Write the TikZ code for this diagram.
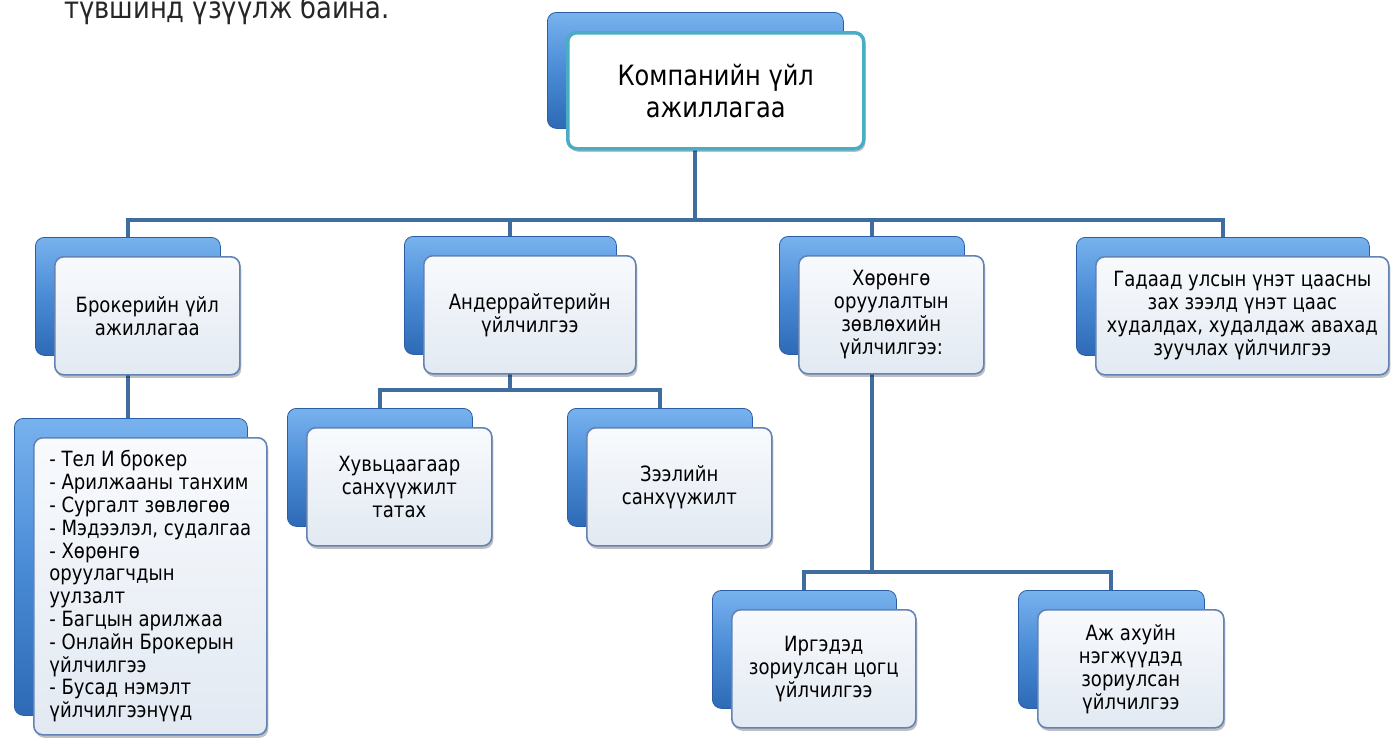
\documentclass[tikz,border=0pt]{standalone}
\usepackage{fontspec}
\setmainfont{DejaVu Sans}[FakeStretch=0.86]
\usetikzlibrary{shadows}
\pgfdeclarelayer{bg}
\pgfsetlayers{bg,main}
\definecolor{connc}{HTML}{3F6E9E}
\definecolor{backtop}{HTML}{78B2EE}
\definecolor{backmid}{HTML}{4A8BD6}
\definecolor{backbot}{HTML}{2E6AB5}
\definecolor{backedge}{HTML}{2A5FA5}
\definecolor{frontedge}{HTML}{6283B4}
\definecolor{fronttop}{HTML}{F8FAFD}
\definecolor{frontbot}{HTML}{E2E9F2}
\definecolor{tealedge}{HTML}{4BACC6}
\tikzset{
  backbox/.style={draw=backedge, line width=0.8pt, rounded corners=9pt,
    top color=backtop, bottom color=backbot, middle color=backmid, inner sep=0pt},
  frontbox/.style={draw=frontedge, line width=1.6pt, rounded corners=9pt,
    top color=fronttop, bottom color=frontbot,
    drop shadow={shadow xshift=1.5pt, shadow yshift=-3pt, opacity=0.25, fill=black},
    align=center, font=\fontsize{21}{23}\selectfont, inner sep=4pt},
  connline/.style={draw=connc, line width=4pt},
}
\newcommand\orgbox[7]{%
  \node[backbox, minimum width=#4pt, minimum height=#5pt, anchor=north west] (#1b) at (#2,#3) {};
  \node[frontbox, minimum width=#4pt, minimum height=#5pt, anchor=north west, #6] (#1) at ([xshift=19pt,yshift=-19pt]#2,#3) {#7};}
\begin{document}
\begin{tikzpicture}[x=1pt,y=-1pt]
\useasboundingbox (0,0) rectangle (1398,737);
\node[anchor=base west, inner sep=0pt, font=\fontsize{30}{32}\selectfont, text=black!85] (cap) at (64,18) {түвшинд үзүүлж байна.};
\orgbox{top}{547}{12}{296}{116}{top color=white, bottom color=white, draw=tealedge, line width=3.5pt, font=\fontsize{28}{32}\selectfont}{Компанийн үйл\\ажиллагаа}
\orgbox{br}{35}{237}{185}{118}{}{Брокерийн үйл\\ажиллагаа}
\orgbox{and}{404}{236}{212}{118}{}{Андеррайтерийн\\үйлчилгээ}
\orgbox{hr}{779}{236}{185}{118}{}{Хөрөнгө\\оруулалтын\\зөвлөхийн\\үйлчилгээ:}
\orgbox{gd}{1076}{237}{293}{118}{}{Гадаад улсын үнэт цаасны\\зах зээлд үнэт цаас\\худалдах, худалдаж авахад\\зуучлах үйлчилгээ}
\orgbox{list}{14}{418}{233}{297}{align=left, font=\fontsize{21}{22.8}\selectfont}{- Тел И брокер\\- Арилжааны танхим\\- Сургалт зөвлөгөө\\- Мэдээлэл, судалгаа\\- Хөрөнгө\\оруулагчдын\\уулзалт\\- Багцын арилжаа\\- Онлайн Брокерын\\үйлчилгээ\\- Бусад нэмэлт\\үйлчилгээнүүд}
\orgbox{hv}{287}{408}{185}{118}{}{Хувьцаагаар\\санхүүжилт\\татах}
\orgbox{zl}{567}{408}{185}{118}{}{Зээлийн\\санхүүжилт}
\orgbox{ir}{712}{590}{184}{118}{}{Иргэдэд\\зориулсан цогц\\үйлчилгээ}
\orgbox{aj}{1018}{590}{186}{118}{}{Аж ахуйн\\нэгжүүдэд\\зориулсан\\үйлчилгээ}
\coordinate (bus1) at (0,220);
\coordinate (bus2) at (0,390);
\coordinate (bus3) at (0,572);
\begin{pgfonlayer}{bg}
\fill[white] (0,0) rectangle (1398,737);
\draw[connline] (topb.south) -- (topb.south |- bus1);
\draw[connline] (brb.north) |- (gdb.north |- bus1) -- (gdb.north);
\draw[connline] (andb.north) -- (andb.north |- bus1);
\draw[connline] (hrb.north) -- (hrb.north |- bus1);
\draw[connline] (andb.south) -- (andb.south |- bus2);
\draw[connline] (hvb.north) |- (zlb.north |- bus2) -- (zlb.north);
\draw[connline] (brb.south) -- (brb.south |- listb.north);
\draw[connline] (hrb.south) -- (hrb.south |- bus3);
\draw[connline] (irb.north) |- (ajb.north |- bus3) -- (ajb.north);
\end{pgfonlayer}
\end{tikzpicture}
\end{document}
